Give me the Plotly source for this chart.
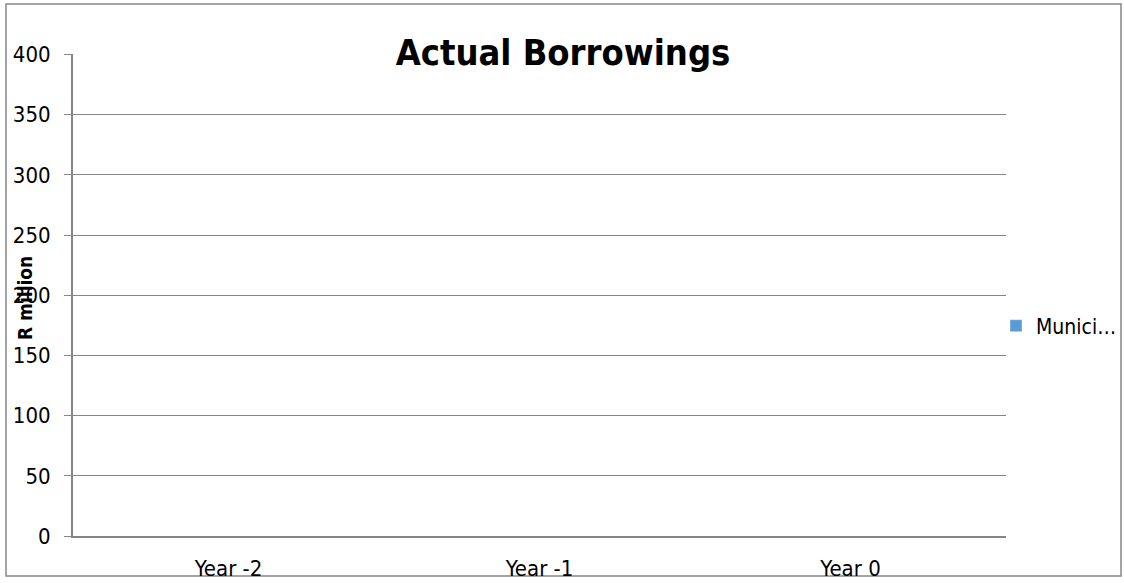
import plotly.graph_objects as go

categories = ["Year -2", "Year -1", "Year 0"]
series_name = "Munici…"
values = [None, None, None]
y_ticks = [0, 50, 100, 150, 200, 250, 300, 350, 400]

FONT = "DejaVu Sans Condensed, Liberation Sans Narrow, Liberation Sans, Arial, sans-serif"
GRID = "#868686"

W, H = 1124, 583
L, R, T, B = 73, 118, 54, 47
pw, ph = W - L - R, H - T - B

def px_x(x):
    return (x - L) / pw

def px_y(y):
    return (H - B - y) / ph

fig = go.Figure()
fig.add_trace(go.Bar(x=categories, y=values, name=series_name,
                     marker_color="#5B9BD5", showlegend=True))

fig.update_layout(
    width=W, height=H,
    margin=dict(l=L, r=R, t=T, b=B, pad=0, autoexpand=False),
    paper_bgcolor="white", plot_bgcolor="white",
    font=dict(family=FONT, size=22, color="black"),
    title=dict(text="<b>Actual Borrowings</b>", x=px_x(563), xref="paper",
               xanchor="center", y=1 - 52 / H, yanchor="middle",
               font=dict(family=FONT, size=36, color="black")),
    showlegend=True,
    legend=dict(x=px_x(996), y=px_y(326), xanchor="left", yanchor="middle",
                font=dict(family=FONT, size=21, color="black"),
                itemwidth=30, bgcolor="rgba(0,0,0,0)"),
    xaxis=dict(type="category", showline=True, linecolor=GRID, linewidth=2,
               showgrid=False, ticks="", tickfont=dict(size=22),
               ticklabelstandoff=12, range=[-0.5, 2.5]),
    yaxis=dict(range=[0, 400.4], tickvals=y_ticks, showline=True, linecolor=GRID,
               linewidth=2, showgrid=True, gridcolor=GRID, gridwidth=1,
               ticks="outside", ticklen=7, tickcolor=GRID, tickwidth=1,
               zeroline=False, tickfont=dict(size=22), ticklabelstandoff=9),
    annotations=[dict(text="<b>R million</b>", textangle=-90, xref="paper",
                      yref="paper", x=px_x(25), y=px_y(298), xanchor="center",
                      yanchor="middle", showarrow=False,
                      font=dict(family=FONT, size=19, color="black"))],
    shapes=[dict(type="rect", xref="paper", yref="paper",
                 x0=px_x(6), x1=px_x(1121), y0=px_y(576), y1=px_y(4),
                 line=dict(color=GRID, width=1.5), layer="below")],
)

fig.write_html("out.html")
